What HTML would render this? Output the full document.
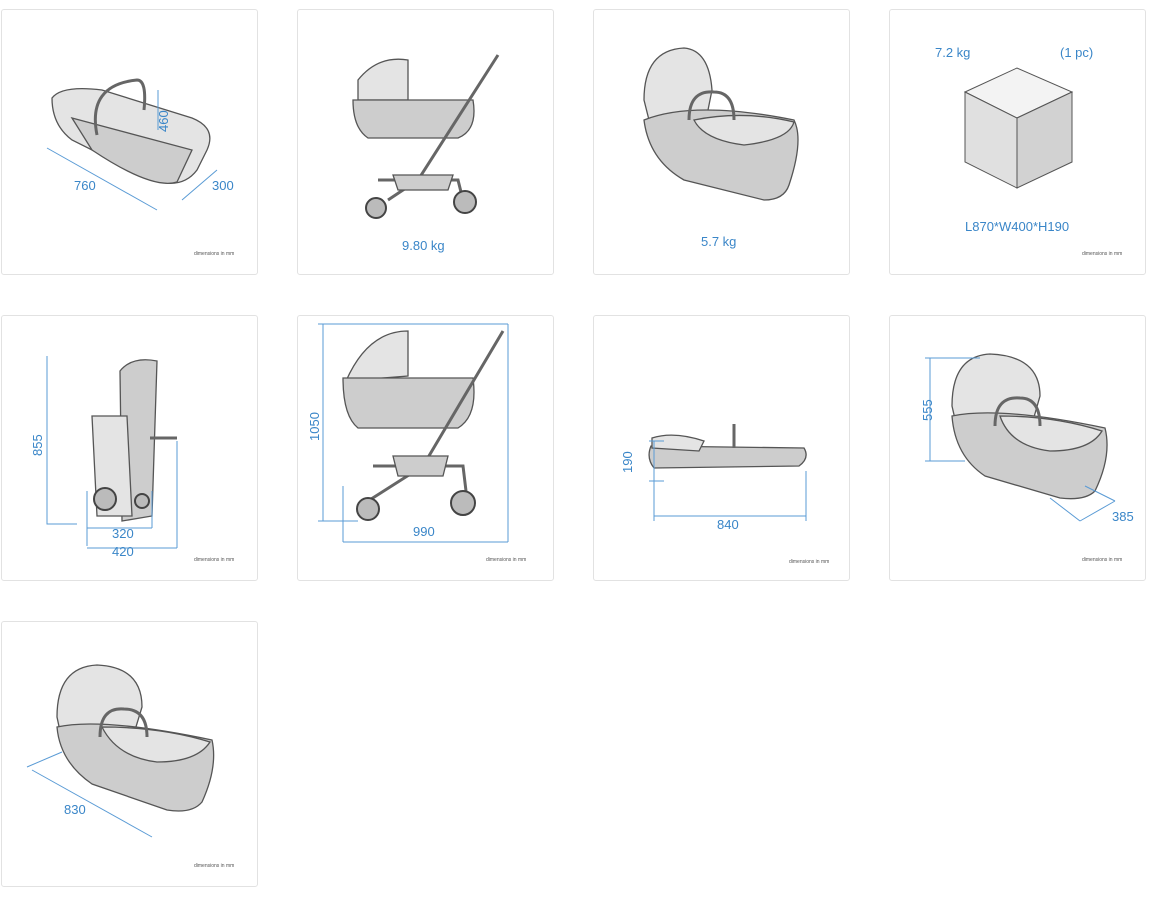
<!DOCTYPE html>
<html><head><meta charset="utf-8"><style>
body{margin:0;width:1160px;height:900px;background:#fff;position:relative;overflow:hidden;font-family:"Liberation Sans",sans-serif}
.c{position:absolute;width:257px;height:266px;border:1px solid #e2e2e2;border-radius:3px;box-sizing:border-box;background:#fff}
.c svg{position:absolute;left:0;top:0}
.b{fill:#3a86c8;font-size:13px;font-family:"Liberation Sans",sans-serif}
.d{fill:#555;font-size:5px}
.g{fill:#cdcdcd;stroke:#555;stroke-width:1.3}
.l{fill:#e4e4e4;stroke:#555;stroke-width:1.3}
.k{fill:none;stroke:#666;stroke-width:3}
.w{fill:#bbb;stroke:#444;stroke-width:2}
.m{stroke:#5a9bd5;stroke-width:1;fill:none}
</style></head><body>

<div class="c" style="left:1px;top:9px"><svg width="257" height="266">
<path class="l" d="M50 88 Q60 75 100 80 L190 108 Q215 118 205 140 L195 160 Q180 180 150 170 L70 130 Q50 115 50 88Z"/>
<path class="g" d="M70 108 L190 140 L175 172 Q150 180 90 140Z"/>
<path class="k" d="M95 125 Q85 75 135 70 Q145 70 142 100"/>
<path class="m" d="M45 138 L155 200 M180 190 L215 160 M156 80 L156 120"/>
<text class="b" x="72" y="180">760</text><text class="b" x="210" y="180">300</text>
<text class="b" transform="translate(166,122) rotate(-90)">460</text>
<text class="d" x="192" y="245">dimensions in mm</text></svg></div>

<div class="c" style="left:297px;top:9px"><svg width="257" height="266">
<path class="l" d="M60 70 Q80 45 110 50 L110 90 L60 90Z"/>
<path class="g" d="M55 90 L175 90 Q180 120 160 128 L70 128 Q55 118 55 90Z"/>
<path class="k" d="M200 45 L120 170 M80 170 L160 170 L165 190 M200 45 L120 170 L90 190"/>
<path class="g" d="M95 165 L155 165 L150 180 L100 180Z"/>
<circle class="w" cx="78" cy="198" r="10"/><circle class="w" cx="167" cy="192" r="11"/>
<text class="b" x="104" y="240">9.80 kg</text></svg></div>

<div class="c" style="left:593px;top:9px"><svg width="257" height="266">
<path class="l" d="M50 90 Q50 40 90 38 Q115 40 118 80 L110 120 L60 130Z"/>
<path class="g" d="M50 110 Q100 90 200 110 Q210 130 195 175 Q190 190 170 190 L90 170 Q55 150 50 110Z"/>
<path class="l" d="M100 110 Q150 100 200 112 Q195 130 150 135 Q110 130 100 110Z"/>
<path class="k" d="M95 110 Q95 80 120 82 Q140 82 140 110"/>
<text class="b" x="107" y="236">5.7 kg</text></svg></div>

<div class="c" style="left:889px;top:9px"><svg width="257" height="266">
<path fill="#f3f3f3" stroke="#555" stroke-width="1" d="M75 82 L127 58 L182 82 L127 108Z"/>
<path fill="#e0e0e0" stroke="#555" stroke-width="1" d="M75 82 L127 108 L127 178 L75 152Z"/>
<path fill="#d2d2d2" stroke="#555" stroke-width="1" d="M182 82 L127 108 L127 178 L182 152Z"/>
<text class="b" x="45" y="47">7.2 kg</text><text class="b" x="170" y="47">(1 pc)</text>
<text class="b" x="75" y="221">L870*W400*H190</text>
<text class="d" x="192" y="245">dimensions in mm</text></svg></div>

<div class="c" style="left:1px;top:315px"><svg width="257" height="266">
<path class="g" d="M118 55 Q130 40 155 45 L150 200 L120 205Z"/>
<path class="l" d="M90 100 L125 100 L130 200 L95 200Z"/>
<path class="k" d="M148 122 L175 122"/>
<circle class="w" cx="103" cy="183" r="11"/><circle class="w" cx="140" cy="185" r="7"/>
<path class="m" d="M45 40 L45 208 L75 208 M85 175 L85 230 M150 175 L150 212 M85 212 L150 212 M175 125 L175 232 M85 232 L175 232"/>
<text class="b" transform="translate(40,140) rotate(-90)">855</text>
<text class="b" x="110" y="222">320</text><text class="b" x="110" y="240">420</text>
<text class="d" x="192" y="245">dimensions in mm</text></svg></div>

<div class="c" style="left:297px;top:315px"><svg width="257" height="266">
<path class="l" d="M48 65 Q70 15 110 15 L110 60 L48 65Z"/>
<path class="g" d="M45 62 L175 62 Q180 100 160 112 L60 112 Q45 100 45 62Z"/>
<path class="k" d="M205 15 L125 150 M75 150 L165 150 L168 175 M125 150 L70 185"/>
<path class="g" d="M95 140 L150 140 L145 160 L100 160Z"/>
<circle class="w" cx="70" cy="193" r="11"/><circle class="w" cx="165" cy="187" r="12"/>
<path class="m" d="M25 8 L25 205 M20 8 L210 8 M20 205 L60 205 M45 170 L45 226 M210 8 L210 226 M45 226 L210 226"/>
<text class="b" transform="translate(21,125) rotate(-90)">1050</text>
<text class="b" x="115" y="220">990</text>
<text class="d" x="188" y="245">dimensions in mm</text></svg></div>

<div class="c" style="left:593px;top:315px"><svg width="257" height="266">
<path class="g" d="M57 130 L210 132 Q216 142 205 150 L60 152 Q52 142 57 130Z"/>
<path class="l" d="M58 122 Q80 115 110 125 L105 135 L58 132Z"/>
<path class="k" d="M140 108 L140 132"/>
<path class="m" d="M60 125 L60 165 M55 125 L70 125 M55 165 L70 165 M60 165 L60 205 M212 155 L212 205 M60 200 L212 200"/>
<text class="b" transform="translate(38,157) rotate(-90)">190</text>
<text class="b" x="123" y="213">840</text>
<text class="d" x="195" y="247">dimensions in mm</text></svg></div>

<div class="c" style="left:889px;top:315px"><svg width="257" height="266">
<path class="l" d="M62 90 Q62 40 100 38 Q150 40 150 80 L140 115 L70 125Z"/>
<path class="g" d="M62 100 Q110 90 215 112 Q222 140 205 175 Q195 185 170 182 L95 160 Q65 140 62 100Z"/>
<path class="l" d="M110 100 Q165 100 212 115 Q200 135 160 135 Q120 130 110 100Z"/>
<path class="k" d="M105 110 Q105 80 130 82 Q150 82 150 110"/>
<path class="m" d="M40 42 L40 145 M35 42 L90 42 M35 145 L75 145 M160 182 L190 205 M195 170 L225 185 M190 205 L225 185"/>
<text class="b" transform="translate(42,105) rotate(-90)">555</text>
<text class="b" x="222" y="205">385</text>
<text class="d" x="192" y="245">dimensions in mm</text></svg></div>

<div class="c" style="left:1px;top:621px"><svg width="257" height="266">
<path class="l" d="M55 95 Q55 45 95 43 Q140 45 140 85 L130 118 L62 128Z"/>
<path class="g" d="M55 105 Q100 95 210 118 Q216 145 200 180 Q190 192 165 188 L90 162 Q58 140 55 105Z"/>
<path class="l" d="M100 105 Q160 105 208 120 Q195 140 155 140 Q115 135 100 105Z"/>
<path class="k" d="M98 115 Q98 85 122 87 Q145 87 145 115"/>
<path class="m" d="M30 148 L150 215 M25 145 L60 130"/>
<text class="b" x="62" y="192">830</text>
<text class="d" x="192" y="245">dimensions in mm</text></svg></div>

</body></html>
